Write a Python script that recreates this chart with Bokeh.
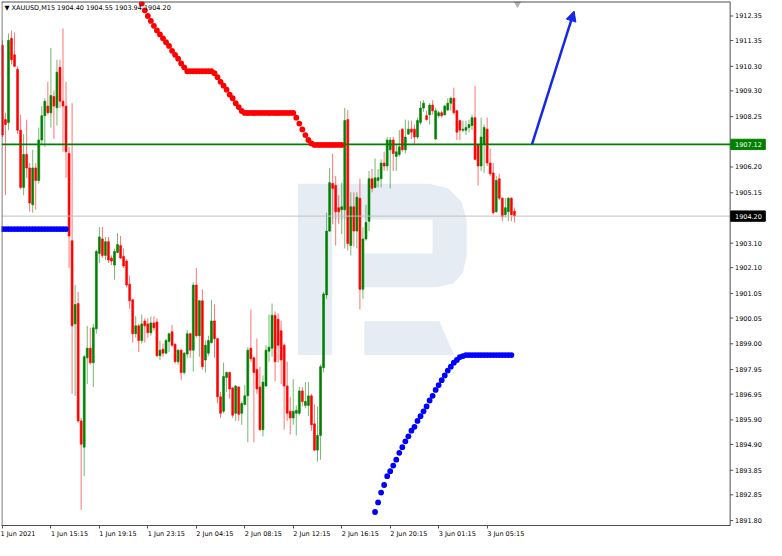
from bokeh.plotting import figure
from bokeh.models import (FixedTicker, Range1d, Label, Arrow, NormalHead, Span,
                          ColumnDataSource)
from bokeh.core.properties import value
from bokeh.embed import file_html
from bokeh.resources import INLINE

# ---------------- data (XAUUSD M15) ----------------
opens = [1911.16, 1908.13, 1908.01, 1911.44, 1910.77, 1910.18, 1907.70, 1905.37, 1906.71, 1906.16,
         1904.66, 1906.16, 1905.65, 1907.30, 1908.29, 1908.68, 1908.41, 1909.07, 1908.61, 1910.26,
         1908.88, 1908.68, 1906.75, 1903.20, 1899.81, 1900.64, 1895.86, 1894.79, 1898.43, 1898.82,
         1898.23, 1899.61, 1902.68, 1903.27, 1902.60, 1903.16, 1902.49, 1902.21, 1902.72, 1903.00,
         1902.56, 1902.37, 1901.43, 1900.79, 1899.41, 1899.73, 1899.13, 1899.93, 1899.81, 1899.45,
         1899.85, 1899.89, 1898.51, 1898.78, 1898.62, 1899.09, 1899.49, 1898.98, 1898.27, 1898.74,
         1897.83, 1898.58, 1899.41, 1898.74, 1901.39, 1899.33, 1900.75, 1898.34, 1898.62, 1899.05,
         1899.93, 1899.21, 1896.84, 1896.25, 1897.63, 1897.83, 1897.20, 1896.17, 1897.24, 1896.17,
         1896.53, 1896.88, 1898.82, 1898.43, 1897.95, 1897.24, 1895.50, 1897.28, 1898.70, 1898.82,
         1900.16, 1900.00, 1899.53, 1898.94, 1897.28, 1896.25, 1895.98, 1896.17, 1896.17, 1897.08,
         1896.49, 1896.49, 1896.88, 1895.74, 1894.67, 1895.27, 1898.03, 1900.99, 1903.59, 1905.53,
         1905.45, 1904.54, 1904.46, 1904.46, 1908.13, 1903.00, 1904.58, 1903.59, 1904.93, 1901.22,
         1903.27, 1903.99, 1905.72, 1905.37, 1905.65, 1905.72, 1906.36, 1906.24, 1906.90, 1907.30,
         1906.63, 1906.71, 1907.74, 1906.90, 1907.54, 1907.74, 1907.74, 1907.42, 1908.01, 1908.60,
         1908.29, 1908.33, 1908.72, 1907.34, 1908.29, 1908.41, 1908.33, 1908.52, 1908.80, 1909.00,
         1908.49, 1908.09, 1907.70, 1907.70, 1907.81, 1907.89, 1908.21, 1907.10, 1906.24, 1907.14,
         1907.74, 1906.36, 1905.96, 1904.38, 1905.72, 1904.93, 1904.26, 1904.38, 1904.93, 1904.40]
highs = [1911.36, 1908.41, 1911.64, 1911.76, 1911.68, 1910.30, 1908.33, 1907.54, 1908.13, 1906.36,
         1906.90, 1906.36, 1907.81, 1908.68, 1909.00, 1909.67, 1911.05, 1909.31, 1910.57, 1910.57,
         1911.84, 1909.67, 1907.02, 1908.80, 1901.39, 1901.11, 1895.98, 1898.55, 1899.73, 1899.65,
         1899.81, 1902.84, 1903.75, 1903.75, 1903.35, 1903.35, 1902.60, 1902.88, 1903.51, 1903.39,
         1902.88, 1902.45, 1901.78, 1900.83, 1900.12, 1899.81, 1900.20, 1900.04, 1900.04, 1900.12,
         1900.12, 1900.04, 1899.13, 1899.01, 1899.21, 1899.45, 1899.77, 1899.01, 1898.78, 1898.78,
         1898.66, 1899.57, 1899.45, 1901.50, 1902.09, 1900.79, 1901.22, 1899.13, 1899.33, 1900.79,
         1900.60, 1899.25, 1897.04, 1898.23, 1897.87, 1897.87, 1897.24, 1897.32, 1897.28, 1896.65,
         1897.32, 1898.86, 1900.40, 1898.47, 1899.21, 1898.07, 1897.71, 1898.94, 1900.20, 1900.64,
         1900.32, 1900.24, 1899.93, 1899.01, 1898.27, 1896.84, 1897.56, 1896.49, 1897.24, 1897.24,
         1897.44, 1897.44, 1896.96, 1896.53, 1896.45, 1898.15, 1901.11, 1904.34, 1906.16, 1906.75,
         1905.84, 1905.05, 1905.56, 1908.61, 1908.52, 1905.17, 1905.17, 1905.17, 1905.72, 1903.75,
         1904.66, 1906.04, 1906.12, 1906.55, 1906.12, 1906.51, 1906.82, 1907.42, 1907.42, 1907.42,
         1907.10, 1907.70, 1907.78, 1908.13, 1908.09, 1908.09, 1907.93, 1908.21, 1908.88, 1908.92,
         1908.49, 1908.80, 1908.92, 1908.61, 1908.49, 1908.49, 1908.72, 1909.00, 1909.07, 1909.43,
         1908.52, 1908.13, 1908.09, 1908.09, 1908.13, 1908.33, 1909.51, 1907.10, 1908.21, 1907.93,
         1908.21, 1906.94, 1906.36, 1905.84, 1905.92, 1904.97, 1904.93, 1904.97, 1904.97, 1904.55]
lows = [1907.42, 1905.05, 1907.70, 1910.38, 1910.26, 1907.54, 1905.29, 1905.05, 1905.76, 1904.38,
        1904.34, 1904.46, 1905.53, 1907.14, 1907.02, 1908.33, 1907.81, 1907.34, 1907.89, 1908.61,
        1906.82, 1905.76, 1902.09, 1896.96, 1896.88, 1895.78, 1892.23, 1893.61, 1897.36, 1898.15,
        1897.24, 1899.41, 1902.29, 1902.49, 1902.41, 1902.29, 1902.21, 1901.61, 1902.68, 1902.45,
        1902.09, 1901.30, 1900.43, 1899.05, 1899.25, 1898.66, 1899.01, 1899.05, 1899.25, 1899.33,
        1899.53, 1898.47, 1898.34, 1898.47, 1898.58, 1898.66, 1898.86, 1898.19, 1898.15, 1897.52,
        1897.75, 1898.43, 1898.43, 1897.87, 1899.25, 1898.47, 1897.95, 1897.83, 1898.51, 1899.01,
        1898.43, 1896.57, 1895.98, 1896.17, 1897.04, 1896.76, 1895.98, 1895.86, 1895.86, 1895.70,
        1896.49, 1894.99, 1898.27, 1894.99, 1896.96, 1895.46, 1895.23, 1897.24, 1898.27, 1898.47,
        1897.48, 1898.23, 1897.36, 1895.50, 1895.86, 1895.31, 1895.70, 1895.27, 1896.09, 1896.45,
        1896.37, 1896.05, 1895.46, 1894.63, 1894.20, 1894.28, 1897.83, 1900.83, 1903.55, 1903.87,
        1903.00, 1903.87, 1903.47, 1902.88, 1902.80, 1902.60, 1902.96, 1902.88, 1900.40, 1900.83,
        1903.20, 1903.59, 1905.17, 1905.33, 1905.37, 1905.37, 1906.04, 1906.04, 1905.33, 1906.04,
        1906.04, 1906.63, 1906.82, 1906.75, 1907.50, 1907.34, 1907.14, 1907.34, 1907.93, 1908.45,
        1908.09, 1907.93, 1908.33, 1907.30, 1908.21, 1908.21, 1908.29, 1908.49, 1908.49, 1908.33,
        1907.30, 1907.30, 1907.62, 1907.50, 1907.62, 1907.70, 1906.51, 1905.45, 1906.04, 1905.96,
        1906.24, 1905.84, 1904.26, 1904.34, 1904.85, 1903.99, 1904.14, 1903.99, 1903.99, 1903.94]
closes = [1907.50, 1907.93, 1911.36, 1910.57, 1910.30, 1907.70, 1905.37, 1906.71, 1906.16, 1904.73,
          1906.16, 1905.65, 1907.30, 1908.29, 1908.88, 1908.41, 1909.11, 1908.68, 1910.06, 1908.88,
          1908.68, 1906.82, 1903.39, 1899.73, 1900.60, 1895.86, 1894.91, 1898.47, 1898.82, 1898.23,
          1899.65, 1902.76, 1903.35, 1902.60, 1903.16, 1902.41, 1902.37, 1902.76, 1903.04, 1902.49,
          1902.17, 1901.39, 1900.75, 1899.41, 1899.73, 1899.13, 1899.81, 1899.73, 1899.45, 1899.85,
          1899.65, 1898.51, 1898.74, 1898.62, 1899.13, 1899.41, 1898.94, 1898.27, 1898.74, 1897.83,
          1898.62, 1899.41, 1898.74, 1901.39, 1899.33, 1900.75, 1898.07, 1898.94, 1899.13, 1899.93,
          1899.21, 1896.84, 1896.17, 1897.67, 1897.83, 1897.16, 1896.09, 1897.28, 1896.13, 1896.57,
          1896.88, 1898.74, 1898.39, 1897.83, 1897.16, 1895.50, 1897.44, 1898.74, 1898.86, 1900.16,
          1898.27, 1898.94, 1898.34, 1897.28, 1896.17, 1895.98, 1896.25, 1896.29, 1897.08, 1896.65,
          1896.65, 1896.88, 1895.70, 1894.67, 1895.27, 1898.07, 1901.03, 1903.59, 1905.56, 1905.33,
          1904.38, 1904.38, 1904.58, 1908.09, 1903.08, 1904.58, 1903.59, 1904.97, 1901.22, 1903.27,
          1903.95, 1905.72, 1905.33, 1905.76, 1905.76, 1906.36, 1906.24, 1907.30, 1907.30, 1906.75,
          1906.82, 1907.02, 1906.90, 1907.42, 1907.74, 1907.62, 1907.42, 1908.09, 1908.60, 1908.80,
          1908.13, 1908.72, 1908.49, 1908.49, 1908.41, 1908.29, 1908.68, 1908.80, 1909.00, 1908.41,
          1907.62, 1907.70, 1907.74, 1907.81, 1907.93, 1908.21, 1906.51, 1906.24, 1907.42, 1907.81,
          1906.36, 1905.92, 1904.34, 1905.65, 1904.93, 1904.18, 1904.54, 1904.93, 1904.26, 1904.20]

# trailing-stop style dotted lines (bar index where each series starts + values)
red_start = 46
red_dots = [1912.86, 1912.58, 1912.35, 1912.15, 1911.95, 1911.76, 1911.60, 1911.44, 1911.28, 1911.13,
            1910.93, 1910.77, 1910.61, 1910.42, 1910.26, 1910.10, 1910.10, 1910.10, 1910.10, 1910.10,
            1910.10, 1910.10, 1910.10, 1910.10, 1910.02, 1909.86, 1909.67, 1909.51, 1909.35, 1909.15,
            1909.00, 1908.80, 1908.64, 1908.48, 1908.40, 1908.40, 1908.40, 1908.40, 1908.40, 1908.40,
            1908.40, 1908.40, 1908.40, 1908.40, 1908.40, 1908.40, 1908.40, 1908.40, 1908.40, 1908.40,
            1908.40, 1908.21, 1907.97, 1907.73, 1907.50, 1907.30, 1907.16, 1907.10, 1907.10, 1907.10,
            1907.10, 1907.10, 1907.10, 1907.10, 1907.10, 1907.10, 1907.10]
blue1_start = 0
blue_dots1 = [1903.67, 1903.67, 1903.67, 1903.67, 1903.67, 1903.67, 1903.67, 1903.67, 1903.67, 1903.67,
              1903.67, 1903.67, 1903.67, 1903.67, 1903.67, 1903.67, 1903.67, 1903.67, 1903.67, 1903.67,
              1903.67, 1903.67]
blue2_start = 123
blue_dots2 = [1892.15, 1892.54, 1892.94, 1893.25, 1893.61, 1893.81, 1894.04, 1894.28, 1894.56, 1894.79,
              1895.03, 1895.23, 1895.46, 1895.62, 1895.86, 1896.05, 1896.25, 1896.45, 1896.69, 1896.88,
              1897.12, 1897.32, 1897.52, 1897.71, 1897.91, 1898.07, 1898.23, 1898.34, 1898.46, 1898.50,
              1898.54, 1898.54, 1898.54, 1898.54, 1898.54, 1898.54, 1898.54, 1898.54, 1898.54, 1898.54,
              1898.54, 1898.54, 1898.54, 1898.54, 1898.54, 1898.54]

level_green = 1907.12
last_price = 1904.20
forecast_from = (174.8, 1907.12)
forecast_to = (188.7, 1912.55)

time_ticks = [0, 16, 32, 48, 64, 80, 96, 112, 128, 144, 160]
time_labels = ["1 Jun 2021", "1 Jun 15:15", "1 Jun 19:15", "1 Jun 23:15", "2 Jun 04:15",
               "2 Jun 08:15", "2 Jun 12:15", "2 Jun 16:15", "2 Jun 20:15", "3 Jun 01:15",
               "3 Jun 05:15"]
price_ticks = [1912.35, 1911.35, 1910.30, 1909.30, 1908.25, 1906.20, 1905.15, 1903.10, 1902.10,
               1901.05, 1900.05, 1899.00, 1897.95, 1896.95, 1895.90, 1894.90, 1893.85, 1892.85,
               1891.80]

# watermark logo outline (bar index, price)
wm_main_x = [97.55, 141.0, 147.1, 151.6, 153.25, 153.25, 152.0, 148.8, 143.6, 119.45, 119.45,
             141.98, 141.98, 108.82, 108.82, 97.55]
wm_main_y = [1905.52, 1905.52, 1905.33, 1904.77, 1904.02, 1902.60, 1901.89, 1901.46, 1901.30,
             1901.30, 1902.68, 1902.68, 1904.06, 1904.06, 1898.54, 1898.54]
wm_leg_x = [119.45, 144.2, 149.1, 119.45]
wm_leg_y = [1899.92, 1899.92, 1898.54, 1898.54]

# ---------------- styling ----------------
FONT = "DejaVu Sans"
FS = "6.5px"
GREEN = "#008000"
RED = "#FF0000"
BLUE = "#0000FF"
AXC = "#505050"
NBSP = "\u00A0"

X0, X_AX, X1 = -0.3, 240.2, 252.2       # chart area ends at X_AX; price scale band to X1
Y0, Y1 = 1891.60, 1912.94

p = figure(frame_width=765, frame_height=524, output_backend="svg", toolbar_location=None,
           x_range=Range1d(X0, X1), y_range=Range1d(Y0, Y1), y_axis_location=None,
           min_border_left=1, min_border_top=1, min_border_right=0, min_border_bottom=0)
p.background_fill_color = "white"
p.border_fill_color = "white"
p.outline_line_color = None
p.xgrid.visible = False
p.ygrid.visible = False

# watermark
p.patch(wm_main_x, wm_main_y, fill_color="#E6ECF3", line_color=None)
p.patch(wm_leg_x, wm_leg_y, fill_color="#E6ECF3", line_color=None)

# candles
n = len(opens)
xs = list(range(n))
cols = [GREEN if c > o else RED for o, c in zip(opens, closes)]
src = ColumnDataSource(dict(x=xs, h=highs, l=lows,
                            top=[max(o, c) for o, c in zip(opens, closes)],
                            bot=[min(o, c) for o, c in zip(opens, closes)],
                            col=cols))
p.segment("x", "h", "x", "l", source=src, line_color="col", line_alpha=0.55, line_width=1)
p.vbar(x="x", top="top", bottom="bot", width=0.64, source=src,
       fill_color="col", line_color="col", line_width=0.6)

# horizontal levels (chart area only)
p.segment([X0], [level_green], [X_AX], [level_green], line_color=GREEN, line_width=1.6)
p.segment([X0], [last_price], [X_AX], [last_price], line_color="#C0C0C0", line_width=1)

# dotted trailing lines
p.scatter(list(range(red_start, red_start + len(red_dots))), red_dots, size=5.8,
          fill_color=RED, line_color=None)
p.scatter(list(range(blue1_start, blue1_start + len(blue_dots1))), blue_dots1, size=5.8,
          fill_color=BLUE, line_color=None)
p.scatter(list(range(blue2_start, blue2_start + len(blue_dots2))), blue_dots2, size=5.8,
          fill_color=BLUE, line_color=None)

# forecast arrow
p.add_layout(Arrow(end=NormalHead(size=10, fill_color="#1428E6", line_color="#1428E6"),
                   x_start=forecast_from[0], y_start=forecast_from[1],
                   x_end=forecast_to[0], y_end=forecast_to[1],
                   line_color="#1428E6", line_width=2.5))

# chart shift marker
p.scatter([170.0], [1912.86], marker="inverted_triangle", size=8,
          fill_color="#B0B0B0", line_color=None)

# header
p.add_layout(Label(x=X0, y=Y1, x_offset=3, y_offset=-2, text_baseline="top",
                   text="\u25BC XAUUSD,M15  1904.40 1904.55 1903.94 1904.20",
                   text_font=FONT, text_font_size=FS, text_color="#000000"))

# frame borders of the chart area (left, top) and the price scale line (right)
p.segment([X0 + 0.15], [Y0], [X0 + 0.15], [Y1], line_color=AXC, line_width=1)
p.segment([X0], [Y1], [X_AX], [Y1], line_color=AXC, line_width=2)
p.segment([X_AX], [Y0], [X_AX], [Y1], line_color=AXC, line_width=1)

# price scale: ticks + labels
p.segment([X_AX] * len(price_ticks), price_ticks, [X_AX + 1.0] * len(price_ticks), price_ticks,
          line_color=AXC, line_width=1)
p.text([X_AX + 1.6] * len(price_ticks), price_ticks, text=["%.2f" % v for v in price_ticks],
       text_font=value(FONT), text_font_size=FS, text_color="#000000",
       text_align="left", text_baseline="middle")

# price boxes
box_vals = [level_green, last_price]
box_cols = [GREEN, "#000000"]
p.quad(left=[X_AX + 0.2] * 2, right=[X1 - 0.4] * 2,
       bottom=[v - 0.21 for v in box_vals], top=[v + 0.21 for v in box_vals],
       fill_color=box_cols, line_color=box_cols)
p.text([X_AX + 1.6] * 2, box_vals, text=["%.2f" % v for v in box_vals],
       text_font=value(FONT), text_font_size=FS, text_color="white",
       text_align="left", text_baseline="middle")

# time axis (MT4 writes labels to the right of their tick: pad on the left with
# no-break spaces so that the centred label starts at the tick)
def left_start(i, s):
    return s if i == 0 else NBSP * (len(s) * 2 - 4) + s

xa = p.xaxis[0]
xa.bounds = (X0, X_AX)
xa.ticker = FixedTicker(ticks=time_ticks)
xa.major_label_overrides = {t: left_start(i, s) for i, (t, s) in enumerate(zip(time_ticks, time_labels))}
xa.major_label_text_font = FONT
xa.major_label_text_font_size = FS
xa.major_label_text_color = "#000000"
xa.axis_line_color = AXC
xa.major_tick_line_color = AXC
xa.major_tick_in = 0
xa.major_tick_out = 3
xa.minor_tick_line_color = None
xa.major_label_standoff = 1

open("out.html", "w").write(file_html(p, INLINE))
